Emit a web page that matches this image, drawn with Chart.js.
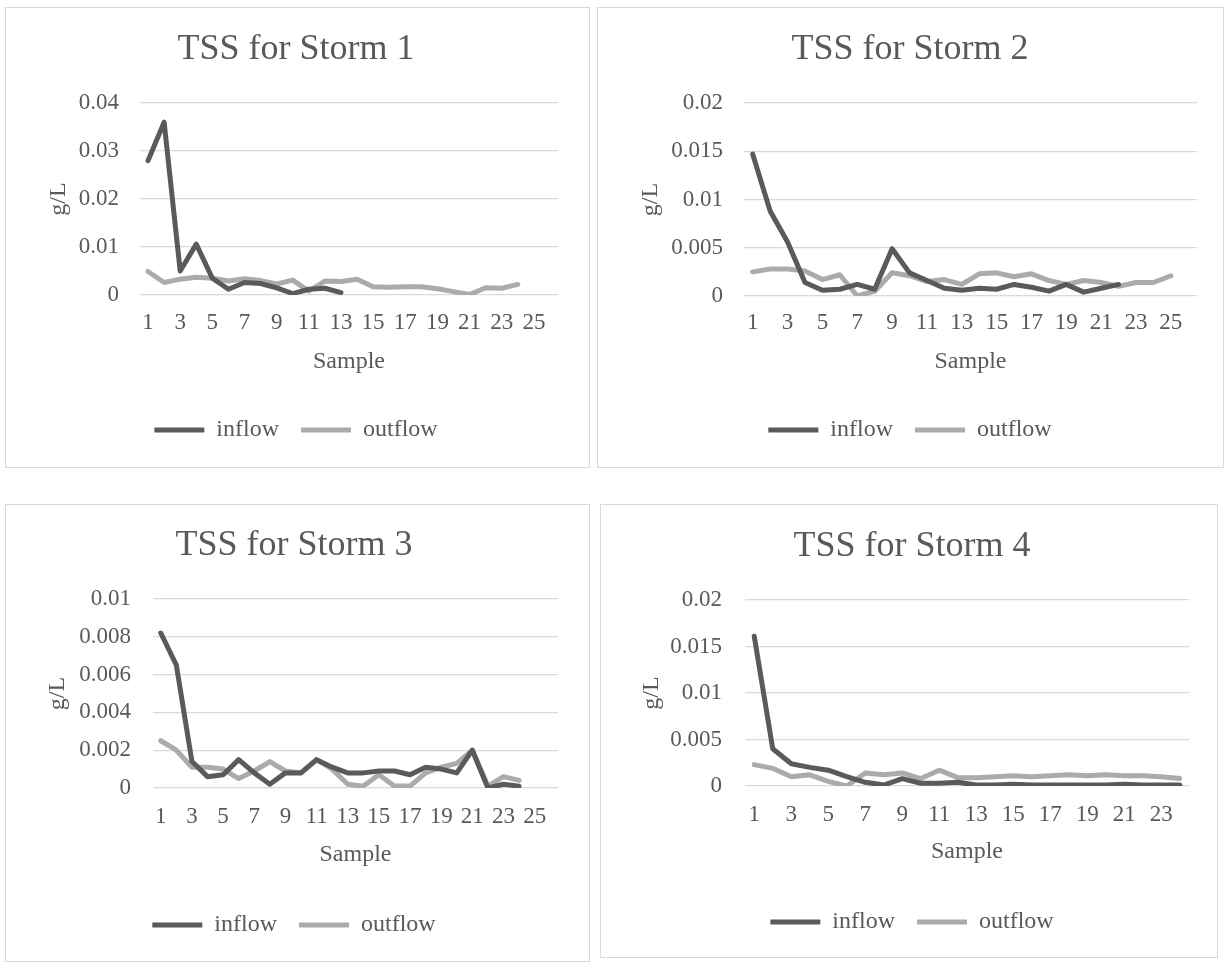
<!DOCTYPE html>
<html>
<head>
<meta charset="utf-8">
<script src="https://cdn.jsdelivr.net/npm/chart.js@4.4.1/dist/chart.umd.min.js"></script>
<style>
    body { margin: 0; background: #fff; overflow: hidden; width: 1225px; height: 966px; position: relative; }
    .box { position: absolute; border: 1px solid #d9d9d9; background: #fff; }
    .box canvas { display: block; }
</style>
</head>
<body>
<div class="box" id="b1" style="left:5px;top:7px;"><canvas id="c1"></canvas></div>
<div class="box" id="b2" style="left:597px;top:7px;"><canvas id="c2"></canvas></div>
<div class="box" id="b3" style="left:5px;top:504px;"><canvas id="c3"></canvas></div>
<div class="box" id="b4" style="left:600px;top:504px;"><canvas id="c4"></canvas></div>
<script>
// Data
const samples26 = [1, 2, 3, 4, 5, 6, 7, 8, 9, 10, 11, 12, 13, 14, 15, 16, 17, 18, 19, 20, 21, 22, 23, 24, 25, 26];
const samples24 = [1, 2, 3, 4, 5, 6, 7, 8, 9, 10, 11, 12, 13, 14, 15, 16, 17, 18, 19, 20, 21, 22, 23, 24];

const storm1Inflow = [0.028, 0.036, 0.005, 0.0106, 0.0035, 0.0012, 0.0026, 0.0024, 0.0015, 0.0003, 0.0012, 0.0014, 0.0005];
const storm1Outflow = [0.0049, 0.0026, 0.0033, 0.0037, 0.0035, 0.0029, 0.0034, 0.003, 0.0023, 0.0031, 0.0008, 0.0029,
    0.0028, 0.0033, 0.0017, 0.0016, 0.0017, 0.0017, 0.0013, 0.0007, 0.0001, 0.0015, 0.0014, 0.0022];

const storm2Inflow = [0.0147, 0.0088, 0.0056, 0.0014, 0.0006, 0.0007, 0.0012, 0.0007, 0.0049, 0.0024, 0.0016, 0.0008,
    0.0006, 0.0008, 0.0007, 0.0012, 0.0009, 0.0005, 0.0012, 0.0004, 0.0008, 0.0012];
const storm2Outflow = [0.0025, 0.0028, 0.0028, 0.0026, 0.0017, 0.0022, 0.0, 0.0005, 0.0024, 0.0021, 0.0015, 0.0017,
    0.0012, 0.0023, 0.0024, 0.002, 0.0023, 0.0016, 0.0012, 0.0016, 0.0014, 0.001, 0.0014, 0.0014, 0.0021];

const storm3Inflow = [0.0082, 0.0065, 0.0014, 0.0006, 0.0007, 0.0015, 0.0008, 0.0002, 0.0008, 0.0008, 0.0015, 0.0011,
    0.0008, 0.0008, 0.0009, 0.0009, 0.0007, 0.0011, 0.001, 0.0008, 0.002, 0.0, 0.0002, 0.0001];
const storm3Outflow = [0.0025, 0.002, 0.0011, 0.0011, 0.001, 0.0005, 0.0009, 0.0014, 0.0009, 0.0008, 0.0015, 0.001,
    0.0002, 0.0001, 0.0007, 0.0001, 0.0001, 0.0008, 0.0011, 0.0013, 0.002, 0.0001, 0.0006, 0.0004];

const storm4Inflow = [0.0161, 0.004, 0.0024, 0.002, 0.0017, 0.001, 0.0004, 0.0001, 0.0008, 0.0003, 0.0003, 0.0004,
    0.0001, 0.0001, 0.0002, 0.0001, 0.0001, 0.0001, 0.0001, 0.0001, 0.0002, 0.0001, 0.0001, 0.0001];
const storm4Outflow = [0.0023, 0.0019, 0.001, 0.0012, 0.0005, 0.0, 0.0014, 0.0012, 0.0014, 0.0008, 0.0017, 0.0009,
    0.0009, 0.001, 0.0011, 0.001, 0.0011, 0.0012, 0.0011, 0.0012, 0.0011, 0.0011, 0.001, 0.0008];

// Styles
const FONT = '"Liberation Serif", "Times New Roman", serif';
const TEXT = '#595959';
const GRID = '#d9d9d9';
const INFLOW_COLOR = '#5a5a5a';
const OUTFLOW_COLOR = '#ababab';
const TITLE_SIZE = 36, TICK_SIZE = 23, AXIS_SIZE = 24, LEGEND_SIZE = 24, LEGEND_PAD = 22;

// Target layout (px inside each box)
const layouts = {
    c1: { w: 583, h: 459, plotL: 134, plotR: 552, plotT: 95, plotB: 287, titleX: 290, titleY: 42,
          tickY: 315, xTitleY: 354, legendY: 422, yLabelRight: 113, yTitleX: 53 },
    c2: { w: 625, h: 459, plotL: 146, plotR: 599, plotT: 95, plotB: 288, titleX: 312, titleY: 42,
          tickY: 315, xTitleY: 354, legendY: 422, yLabelRight: 125, yTitleX: 53 },
    c3: { w: 583, h: 456, plotL: 147, plotR: 552, plotT: 94, plotB: 283, titleX: 288, titleY: 41,
          tickY: 312, xTitleY: 350, legendY: 420, yLabelRight: 125, yTitleX: 52 },
    c4: { w: 616, h: 452, plotL: 144, plotR: 588, plotT: 95, plotB: 281, titleX: 311, titleY: 42,
          tickY: 310, xTitleY: 347, legendY: 417, yLabelRight: 121, yTitleX: 51 }
};

function makeChart(id, title, labels, inflow, outflow, yMax, yStep) {
    const L = layouts[id];
    const canvas = document.getElementById(id);
    canvas.width = L.w;
    canvas.height = L.h;

    const padR = L.w - L.plotR;
    const padL = 2 * L.titleX - L.plotR;
    const titleTop = L.titleY - TITLE_SIZE * 0.6;
    const titleBottom = L.plotT - titleTop - TITLE_SIZE * 1.2;
    const legendTop = L.legendY - LEGEND_PAD - LEGEND_SIZE / 2;
    const padB = L.h - legendTop - (LEGEND_SIZE + LEGEND_PAD + 10);
    const xHeight = legendTop - L.plotB;
    const xTitlePad = legendTop - AXIS_SIZE * 0.6 - L.xTitleY;

    return new Chart(canvas, {
        type: 'line',
        data: {
            labels: labels,
            datasets: [
                { label: 'inflow', data: inflow, borderColor: INFLOW_COLOR, backgroundColor: INFLOW_COLOR },
                { label: 'outflow', data: outflow, borderColor: OUTFLOW_COLOR, backgroundColor: OUTFLOW_COLOR }
            ]
        },
        options: {
            responsive: false,
            animation: false,
            devicePixelRatio: 1,
            layout: { padding: { left: padL, right: padR, top: 0, bottom: padB } },
            elements: {
                line: { borderWidth: 5, tension: 0, borderCapStyle: 'round', borderJoinStyle: 'round' },
                point: { radius: 0, hoverRadius: 0 }
            },
            plugins: {
                tooltip: { enabled: false },
                title: {
                    display: true,
                    text: title,
                    color: TEXT,
                    font: { family: FONT, size: TITLE_SIZE, weight: 'normal', lineHeight: 1.2 },
                    padding: { top: titleTop, bottom: titleBottom }
                },
                legend: {
                    position: 'bottom',
                    labels: {
                        color: TEXT,
                        font: { family: FONT, size: LEGEND_SIZE },
                        boxWidth: 50,
                        boxHeight: 5,
                        padding: LEGEND_PAD,
                        generateLabels(chart) {
                            return Chart.defaults.plugins.legend.labels.generateLabels(chart).map(item => {
                                item.lineWidth = 0;
                                item.fillStyle = item.strokeStyle;
                                return item;
                            });
                        }
                    }
                }
            },
            scales: {
                x: {
                    type: 'category',
                    offset: true,
                    grid: { display: false, drawTicks: false },
                    border: { display: false },
                    ticks: {
                        autoSkip: false,
                        maxRotation: 0,
                        padding: L.tickY - L.plotB - TICK_SIZE * 0.6,
                        color: TEXT,
                        font: { family: FONT, size: TICK_SIZE },
                        callback: function (val, i) {
                            return i % 2 === 0 ? this.getLabelForValue(val) : '';
                        }
                    },
                    title: {
                        display: true,
                        text: 'Sample',
                        color: TEXT,
                        font: { family: FONT, size: AXIS_SIZE },
                        padding: { top: 0, bottom: xTitlePad }
                    },
                    afterFit(scale) { scale.height = xHeight; }
                },
                y: {
                    min: 0,
                    max: yMax,
                    grid: { color: GRID, lineWidth: 1.3, drawTicks: false },
                    border: { display: false },
                    ticks: {
                        stepSize: yStep,
                        padding: L.plotL - L.yLabelRight,
                        color: TEXT,
                        font: { family: FONT, size: TICK_SIZE },
                        callback: v => String(Number(v.toFixed(4)))
                    },
                    title: {
                        display: true,
                        text: 'g/L',
                        color: TEXT,
                        font: { family: FONT, size: AXIS_SIZE },
                        padding: { top: L.yTitleX - padL - AXIS_SIZE * 0.6, bottom: 0 }
                    },
                    afterFit(scale) { scale.width = L.plotL - padL; }
                }
            }
        }
    });
}

makeChart('c1', 'TSS for Storm 1', samples26, storm1Inflow, storm1Outflow, 0.04, 0.01);
makeChart('c2', 'TSS for Storm 2', samples26, storm2Inflow, storm2Outflow, 0.02, 0.005);
makeChart('c3', 'TSS for Storm 3', samples26, storm3Inflow, storm3Outflow, 0.01, 0.002);
makeChart('c4', 'TSS for Storm 4', samples24, storm4Inflow, storm4Outflow, 0.02, 0.005);
</script>
</body>
</html>
